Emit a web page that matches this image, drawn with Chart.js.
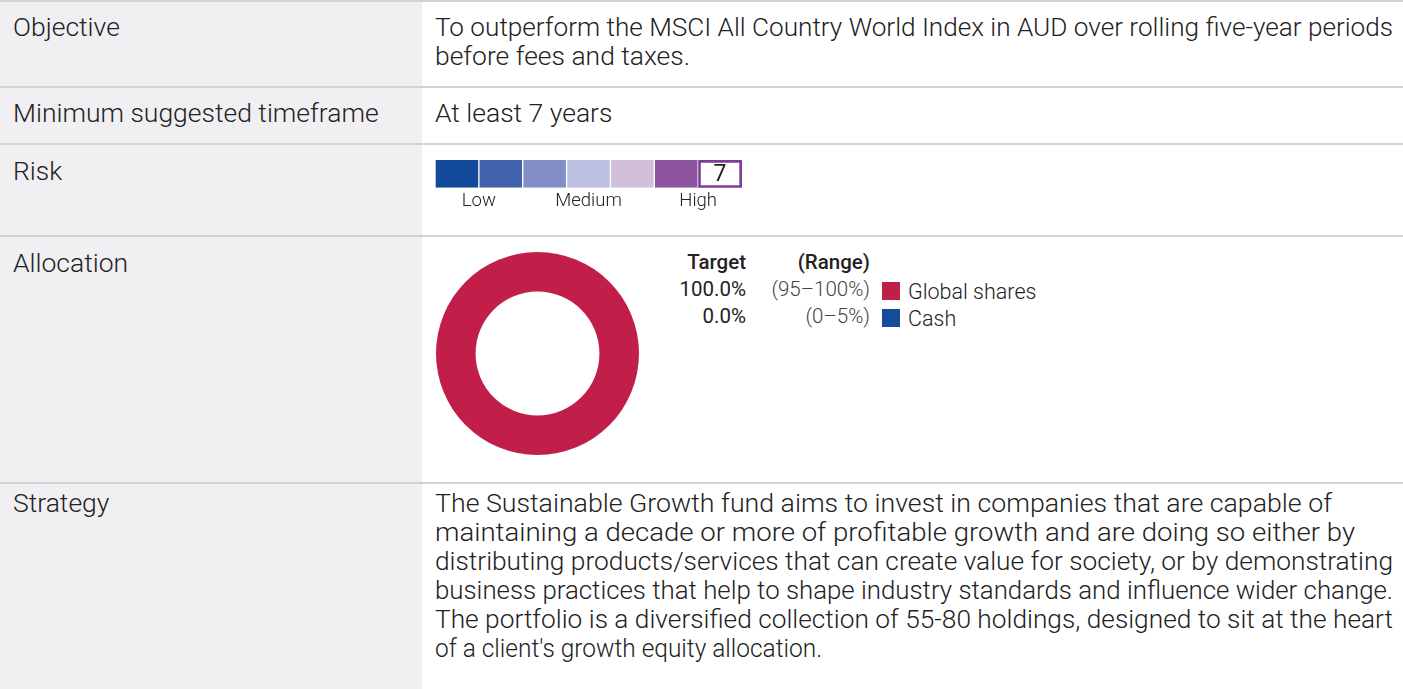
<!DOCTYPE html>
<html>
<head>
<meta charset="utf-8">
<script src="https://cdn.jsdelivr.net/npm/chart.js@4"></script>
<style>
  html, body { margin: 0; padding: 0; }
  body { width: 1403px; height: 689px; position: relative; overflow: hidden; background: #fff;
         font-family: Roboto, "Noto Sans", sans-serif; color: #222; }
  .leftcol { position: absolute; left: 0; top: 0; width: 422px; height: 689px; background: #f0eff2; }
  .rule { position: absolute; left: 0; width: 1403px; height: 2px; background: #d2d2d4; }
  .lbl { position: absolute; left: 13px; font-size: 26.5px; font-weight: 300; line-height: 29px; white-space: nowrap; }
  .txt { position: absolute; left: 435px; font-size: 26.5px; font-weight: 300; line-height: 29px; white-space: nowrap; }
  .txt span { display: block; transform-origin: left center; width: max-content; }
  #riskBox { position: absolute; left: 435px; top: 160px; width: 307px; height: 54px; }
  #donutBox { position: absolute; left: 436px; top: 252px; width: 203px; height: 203px; }
  #legend { position: absolute; left: 650px; top: 249px; border-collapse: collapse; font-size: 20.5px; }
  #legend td { padding: 0; height: 27px; line-height: 27px; vertical-align: middle; white-space: nowrap; }
  #legend .tg { text-align: right; width: 96px; font-weight: 400; }
  #legend .rg { text-align: right; width: 124px; font-weight: 300; color: #444; }
  #legend td.hd { font-weight: 500; color: #222; }
  #legend .sw { width: 26px; padding-left: 12px; }
  #legend .sw div { width: 18px; height: 18px; margin-top: 3px; }
  #legend .nm { font-size: 21.5px; font-weight: 300; }
  #legend .nm span { position: relative; top: 2px; }
</style>
</head>
<body>
<div class="leftcol"></div>
<div class="rule" style="top:0"></div>
<div class="rule" style="top:86px"></div>
<div class="rule" style="top:143px"></div>
<div class="rule" style="top:235px"></div>
<div class="rule" style="top:482px"></div>

<div class="lbl" style="top:12px">Objective</div>
<div class="lbl" style="top:98px">Minimum suggested timeframe</div>
<div class="lbl" style="top:156px">Risk</div>
<div class="lbl" style="top:248px">Allocation</div>
<div class="lbl" style="top:488px">Strategy</div>

<div class="txt" style="top:12px">
  <span data-w="958">To outperform the MSCI All Country World Index in AUD over rolling five-year periods</span>
  <span data-w="255">before fees and taxes.</span>
</div>
<div class="txt" style="top:98px"><span>At least 7 years</span></div>
<div class="txt" style="top:488px">
  <span data-w="897">The Sustainable Growth fund aims to invest in companies that are capable of</span>
  <span data-w="920">maintaining a decade or more of profitable growth and are doing so either by</span>
  <span data-w="958">distributing products/services that can create value for society, or by demonstrating</span>
  <span data-w="958">business practices that help to shape industry standards and influence wider change.</span>
  <span data-w="958">The portfolio is a diversified collection of 55-80 holdings, designed to sit at the heart</span>
  <span data-w="387">of a client's growth equity allocation.</span>
</div>

<div id="riskBox"><canvas id="riskChart"></canvas></div>
<div id="donutBox"><canvas id="allocChart"></canvas></div>
<table id="legend"></table>

<script>
// allocation
const allocLabels = ['Global shares', 'Cash'];
const allocTarget = [100.0, 0.0];
const allocRange = ['95\u2013100%', '0\u20135%'];
const allocColors = ['#c11f4a', '#154a9c'];

// risk scale
const riskLevels = [1, 2, 3, 4, 5, 6, 7];
const riskScore = 7;
const riskColors = ['#134a9c', '#4262ad', '#838dc5', '#bbbfe0', '#d2bfda', '#8e54a0', '#ffffff'];
const riskTickPos = [1, 3.5, 6];
const riskTickLabels = ['Low', 'Medium', 'High'];

// squeeze the long text lines to the widths they have in the print layout
document.querySelectorAll('.txt span[data-w]').forEach(s => {
  const w = s.getBoundingClientRect().width;
  s.style.transform = 'scaleX(' + (+s.dataset.w / w) + ')';
});

// legend table
const legend = document.getElementById('legend');
let html = '<tr><td class="tg hd">Target</td><td class="rg hd">(Range)</td><td></td><td></td></tr>';
allocLabels.forEach((name, i) => {
  html += '<tr><td class="tg">' + allocTarget[i].toFixed(1) + '%</td>' +
    '<td class="rg">(' + allocRange[i] + ')</td>' +
    '<td class="sw"><div style="background:' + allocColors[i] + '"></div></td>' +
    '<td class="nm"><span>' + name + '</span></td></tr>';
});
legend.innerHTML = html;

new Chart(document.getElementById('allocChart'), {
  type: 'doughnut',
  data: {
    labels: allocLabels,
    datasets: [{
      data: allocTarget,
      backgroundColor: allocColors,
      borderWidth: 0,
    }]
  },
  options: {
    responsive: true,
    maintainAspectRatio: false,
    animation: false,
    cutout: '61%',
    plugins: {
      legend: { display: false },
      tooltip: { enabled: false },
    },
  }
});

// write the score inside its cell
const scoreLabel = {
  id: 'scoreLabel',
  afterDatasetsDraw(chart) {
    const bar = chart.getDatasetMeta(riskScore - 1).data[0];
    const c = chart.ctx;
    c.save();
    c.fillStyle = '#222';
    c.font = '400 23px Roboto';
    c.textAlign = 'center';
    c.textBaseline = 'middle';
    c.fillText(String(riskScore), bar.x - (bar.x - bar.base) / 2, bar.y + 1);
    c.restore();
  }
};

new Chart(document.getElementById('riskChart'), {
  type: 'bar',
  data: {
    labels: ['Risk'],
    datasets: riskLevels.map((lvl, i) => ({
      label: String(lvl),
      data: [1],
      backgroundColor: riskColors[i],
      borderColor: lvl === riskScore ? '#7e3c98' : '#ffffff',
      borderWidth: lvl === riskScore ? 3 : { left: 1, right: 1 },
      borderSkipped: false,
      barPercentage: 1,
      categoryPercentage: 1,
    }))
  },
  options: {
    indexAxis: 'y',
    responsive: true,
    maintainAspectRatio: false,
    animation: false,
    layout: { padding: 0 },
    plugins: {
      legend: { display: false },
      tooltip: { enabled: false },
    },
    scales: {
      x: {
        stacked: true,
        min: 0,
        max: riskLevels.length,
        afterBuildTicks: axis => { axis.ticks = riskTickPos.map(v => ({ value: v })); },
        ticks: {
          autoSkip: false,
          maxRotation: 0,
          padding: 2,
          color: '#222',
          font: { family: 'Roboto', size: 18.5, weight: 300 },
          callback: (v, i) => riskTickLabels[i],
        },
        grid: { display: false, drawTicks: false },
        border: { display: false },
      },
      y: { stacked: true, display: false },
    },
  },
  plugins: [scoreLabel],
});
</script>
</body>
</html>
